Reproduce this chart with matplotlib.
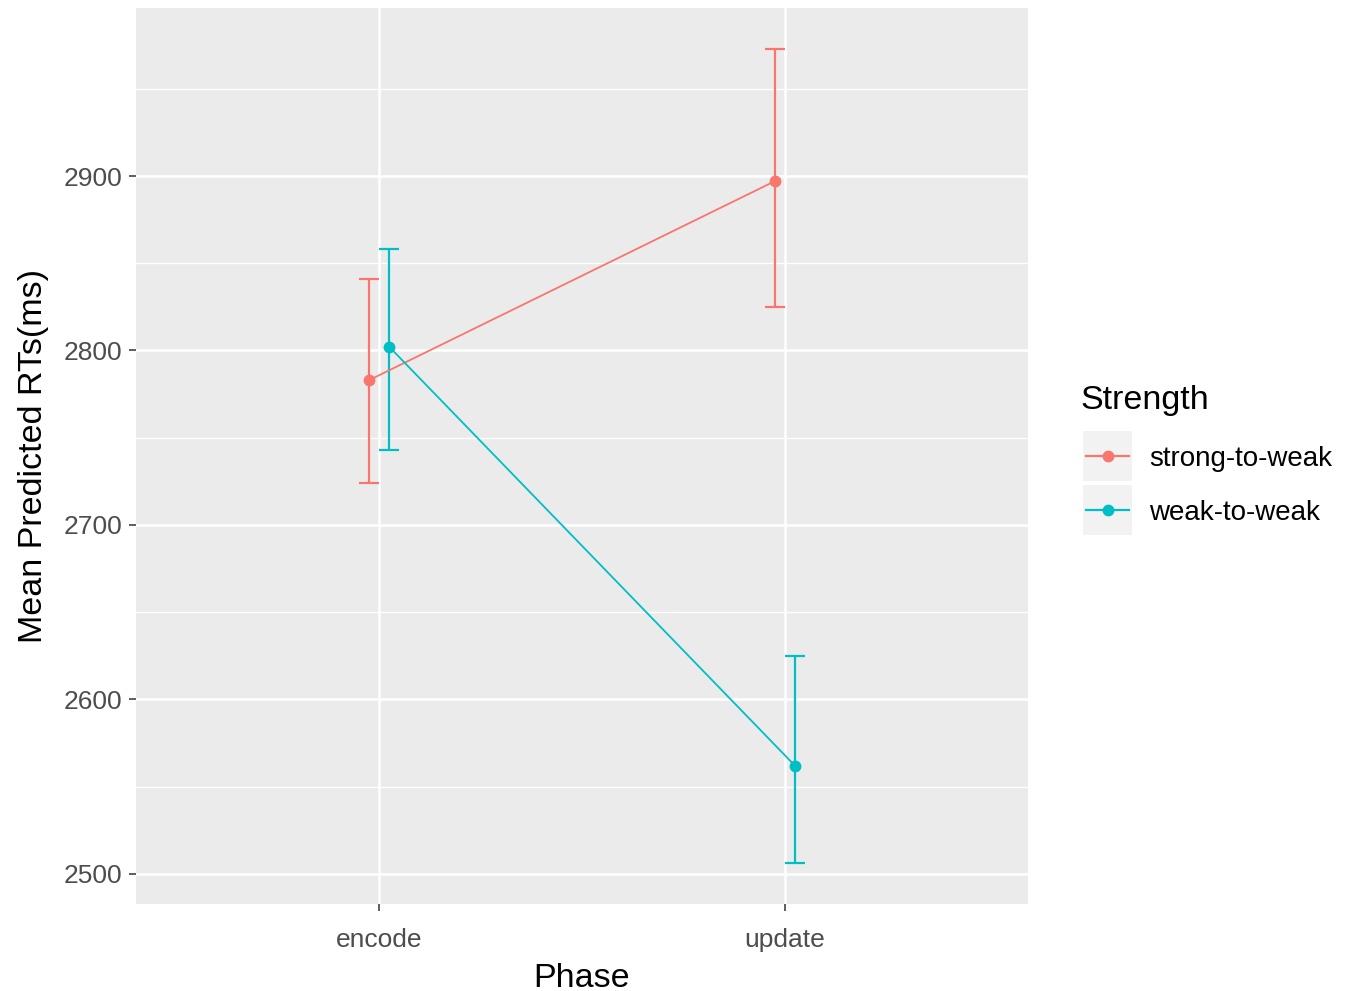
import matplotlib
matplotlib.use("Agg")
import matplotlib.pyplot as plt
import numpy as np
from matplotlib.lines import Line2D
from matplotlib.patches import Rectangle

# ---- data ----
phases = ["encode", "update"]
series_names = ["strong-to-weak", "weak-to-weak"]
strong_mean = [2783, 2897]
strong_lo = [2724, 2825]
strong_hi = [2841, 2973]
weak_mean = [2802, 2562]
weak_lo = [2743, 2506]
weak_hi = [2858, 2625]
yticks = [2500, 2600, 2700, 2800, 2900]
colors = ["#F8766D", "#00BFC4"]

plt.rcParams['font.family'] = ['Liberation Sans', 'DejaVu Sans']

W, H = 1358, 991
fig = plt.figure(figsize=(W / 100, H / 100), dpi=100)
fig.patch.set_facecolor("white")

L, R, T, B = 136, 1028, 8, 904
ax = fig.add_axes([L / W, (H - B) / H, (R - L) / W, (B - T) / H])
ax.set_facecolor("#EBEBEB")
for s in ax.spines.values():
    s.set_visible(False)

xbase = np.arange(1, len(phases) + 1)
dodge = 0.025
series = [(strong_mean, strong_lo, strong_hi), (weak_mean, weak_lo, weak_hi)]

# grid
ymin_d = min(min(strong_lo), min(weak_lo))
ymax_d = max(max(strong_hi), max(weak_hi))
rng = ymax_d - ymin_d
ylo, yhi = ymin_d - 0.05 * rng, ymax_d + 0.05 * rng
minor = [(a + b) / 2 for a, b in zip(yticks[:-1], yticks[1:])]
minor = [yticks[0] - 50] + minor + [yticks[-1] + 50]
for m in minor:
    if ylo <= m <= yhi:
        ax.axhline(m, color="white", lw=1.0, zorder=0.5)
for t in yticks:
    ax.axhline(t, color="white", lw=1.8, zorder=0.6)
for xv in xbase:
    ax.axvline(xv, color="white", lw=1.8, zorder=0.6)

for i, (m, lo, hi) in enumerate(series):
    off = -dodge if i == 0 else dodge
    xs = xbase + off
    c = colors[i]
    m = np.array(m); lo = np.array(lo); hi = np.array(hi)
    ax.errorbar(xs, m, yerr=[m - lo, hi - m], fmt="none", ecolor=c,
                elinewidth=1.6, capsize=7.5, capthick=1.6, zorder=2)
    ax.plot(xs, m, color=c, lw=1.3, zorder=3)
    ax.plot(xs, m, "o", color=c, ms=7.5, zorder=4)

ax.set_xlim(0.4, 2.6)
ax.set_ylim(ylo, yhi)
ax.set_xticks(xbase)
ax.set_xticklabels(phases)
ax.set_yticks(yticks)
ax.tick_params(axis="both", colors="#333333", labelcolor="#4D4D4D",
               labelsize=19, length=5, width=1.1)
ax.tick_params(axis="x", pad=12)
ax.tick_params(axis="y", pad=5)
ax.set_xlabel("Phase", fontsize=24.5, color="black", labelpad=8)
ax.set_ylabel("Mean Predicted RTs(ms)", fontsize=24.5, color="black", labelpad=10)

# legend (manual, ggplot style)
def px(x, y):
    return x / W, (H - y) / H

fig.text(*px(1080, 400), "Strength", fontsize=24.5, va="center", ha="left")
key_tops = [430, 484]
key_h = 52
text_y = [459, 513]
for i, name in enumerate(series_names):
    y0 = key_tops[i]
    x0, y1 = px(1082, y0 + key_h)
    fig.add_artist(Rectangle((x0, y1), 51 / W, key_h / H, transform=fig.transFigure,
                             facecolor="#F2F2F2", edgecolor="white", lw=1.5))
    yc = y0 + key_h / 2
    xa, ya = px(1086, yc)
    xb, _ = px(1129, yc)
    fig.add_artist(Line2D([xa, xb], [ya, ya], transform=fig.transFigure,
                          color=colors[i], lw=1.6))
    xm, _ = px(1107.5, yc)
    fig.add_artist(Line2D([xm], [ya], transform=fig.transFigure, marker="o",
                          ms=7.5, color=colors[i], lw=0))
    fig.text(*px(1149, text_y[i]), name, fontsize=20, va="center", ha="left", color="black")

fig.savefig("out.png", dpi=100)
